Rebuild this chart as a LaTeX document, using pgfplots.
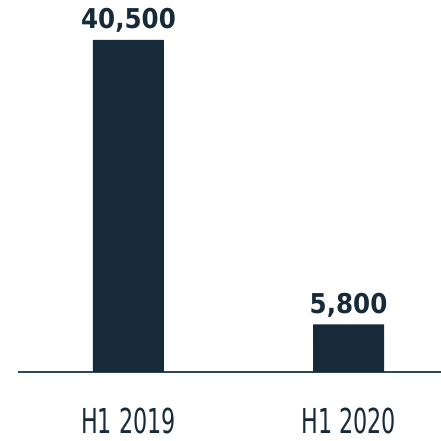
\documentclass[border=0pt]{standalone}
\usepackage{pgfplots}
\pgfplotsset{compat=1.18}
\usepackage{fontspec}
\setmainfont{DejaVu Sans}
\newfontfamily\valfont{DejaVu Sans Condensed}
\newfontfamily\tickfont[FakeStretch=0.72]{DejaVu Sans Condensed}
\definecolor{navy}{HTML}{172A3A}
\definecolor{axl}{HTML}{2E4A56}
\begin{document}
\begin{tikzpicture}
\useasboundingbox (0,0) rectangle (441bp,441bp);
\begin{axis}[
  at={(18bp,69bp)}, anchor=south west,
  scale only axis, width=423bp, height=332bp,
  xmin=-0.502, xmax=1.42, ymin=0, ymax=40500,
  enlarge y limits=false,
  axis x line*=bottom, hide y axis,
  axis line style={-, draw=axl, line width=1.5bp},
  xtick={0,1}, xticklabels={H1 2019, H1 2020},
  major tick length=0,
  xticklabel style={font=\tickfont\fontsize{34.5}{38}\selectfont, text=navy, anchor=base, yshift=-61bp, inner sep=0pt},
  ybar, bar width=71bp, clip=false,
  nodes near coords={\pgfmathprintnumber[fixed,precision=0,1000 sep={,},assume math mode=true]{\pgfplotspointmeta}},
  every node near coord/.append style={font=\valfont\bfseries\fontsize{27.4}{30}\selectfont, text=navy, anchor=base, yshift=11bp, inner sep=0pt},
]
\addplot[fill=navy, draw=none] coordinates {(0,40500) (1,5800)};
\end{axis}
\end{tikzpicture}
\end{document}
